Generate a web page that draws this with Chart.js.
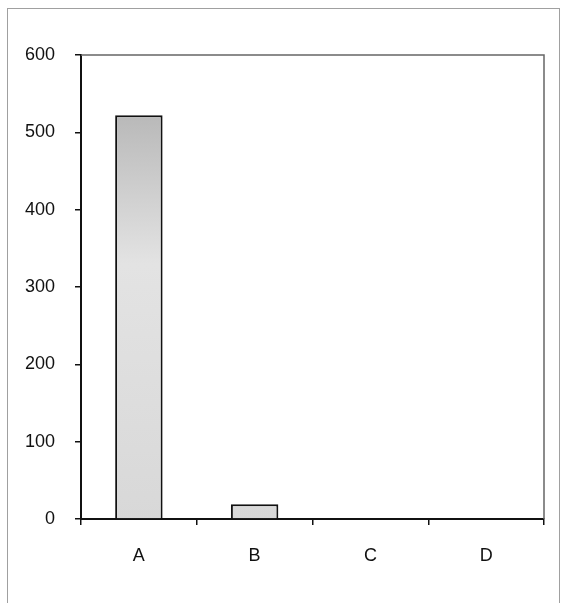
<!DOCTYPE html>
<html>
<head>
<meta charset="utf-8">
<script src="https://cdn.jsdelivr.net/npm/chart.js@4"></script>
<style>
html,body{margin:0;padding:0;background:#fff;}
#wrap{width:562px;height:603px;position:relative;}
</style>
</head>
<body>
<div id="wrap"><canvas id="c" width="562" height="603"></canvas></div>
<script>
const categories = ["A", "B", "C", "D"];
const values = [522, 19, 0, 0];
const yTicks = [0, 100, 200, 300, 400, 500, 600];

const framePlugin = {
  id: 'frame',
  beforeDraw(chart) {
    const ctx = chart.ctx;
    ctx.save();
    ctx.fillStyle = '#fff';
    ctx.fillRect(0, 0, chart.width, chart.height);
    ctx.strokeStyle = '#a0a0a0';
    ctx.lineWidth = 1;
    ctx.strokeRect(7.5, 8.5, chart.width - 10, chart.height);
    ctx.restore();
  },
  afterDatasetsDraw(chart) {
    const a = chart.chartArea, ctx = chart.ctx;
    ctx.save();
    ctx.strokeStyle = '#666';
    ctx.lineWidth = 1.5;
    ctx.beginPath();
    ctx.moveTo(a.left, a.top);
    ctx.lineTo(a.right, a.top);
    ctx.lineTo(a.right, a.bottom);
    ctx.stroke();
    ctx.restore();
  }
};

new Chart(document.getElementById('c'), {
  type: 'bar',
  data: {
    labels: categories,
    datasets: [{
      data: values,
      backgroundColor(ctx) {
        const a = ctx.chart.chartArea;
        if (!a) return '#ddd';
        const g = ctx.chart.ctx.createLinearGradient(0, a.top, 0, a.bottom);
        g.addColorStop(0, '#a8a8a8');
        g.addColorStop(0.45, '#e3e3e3');
        g.addColorStop(1, '#d8d8d8');
        return g;
      },
      borderColor: '#111',
      borderWidth: 2,
      borderSkipped: 'bottom',
      categoryPercentage: 1,
      barPercentage: 0.41
    }]
  },
  options: {
    responsive: false,
    animation: false,
    layout: { padding: { left: 0, top: 55, right: 18, bottom: 0 } },
    plugins: { legend: { display: false }, tooltip: { enabled: false } },
    scales: {
      x: {
        offset: true,
        grid: { display: true, drawOnChartArea: false, offset: true, tickLength: 6, color: '#111', lineWidth: 1.5 },
        border: { display: true, color: '#111', width: 2 },
        ticks: { color: '#111', padding: 20, font: { family: 'Liberation Sans, Arial', size: 18 } },
        afterFit(s) { s.height = 84; }
      },
      y: {
        min: 0, max: 600,
        afterBuildTicks(s) { s.ticks = yTicks.map(v => ({ value: v })); },
        grid: { display: true, drawOnChartArea: false, tickLength: 6, color: '#111', lineWidth: 1.5 },
        border: { display: true, color: '#111', width: 2 },
        ticks: { color: '#111', padding: 20, font: { family: 'Liberation Sans, Arial', size: 18 } },
        afterFit(s) { s.width = 81; }
      }
    }
  },
  plugins: [framePlugin]
});
</script>
</body>
</html>
